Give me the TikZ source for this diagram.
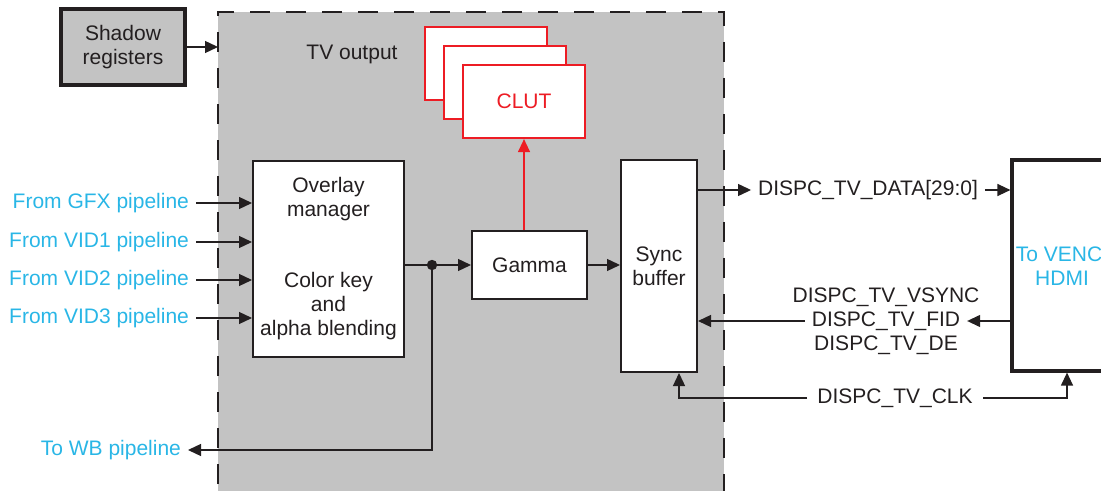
\documentclass[tikz,border=0pt]{standalone}
\usepackage{fontspec}
\setmainfont{Liberation Sans}
\usetikzlibrary{arrows.meta,positioning,calc}
\definecolor{tiblue}{RGB}{41,182,230}
\definecolor{tired}{RGB}{237,28,36}
\definecolor{tigray}{RGB}{195,195,195}
\definecolor{tiblk}{RGB}{35,31,32}
\tikzset{
  box/.style={draw=tiblk,line width=1pt,fill=#1,inner sep=0pt,align=center,text=tiblk},
  box/.default={white},
  tbox/.style={box=#1,line width=1.6pt},
  tbox/.default={white},
  cbox/.style={draw=tired,line width=1.1pt,fill=white,minimum width=61pt,minimum height=36.5pt,text=tired},
  arr/.style={draw=tiblk,line width=0.65pt,-{Triangle[length=6.5pt,width=6pt]}},
  lbl/.style={text=tiblk,align=center},
  pin/.style={text=tiblue,align=center},
}
\begin{document}
\begin{tikzpicture}[x=0.5pt,y=-0.5pt,every node/.style={font=\fontsize{10.5}{12}\selectfont}]
 \useasboundingbox (0,0) rectangle (1101,491);
 \clip (0,0) rectangle (1101,491);
 \fill[tigray] (218,12) rectangle (724,520);
 \draw[tiblk,line width=1.4pt,dash pattern=on 10pt off 8pt] (218,520) -- (218,12) -- (724,12) -- (724,520);
 \node[tbox=tigray,minimum width=62pt,minimum height=38pt] (shadow) at (123,47){Shadow\\registers};
 \coordinate (tvin) at (218,47); \draw[arr] (shadow) -- (tvin);
 \node[lbl] (tvlbl) at (352,54){TV output};
 \node[cbox] (clutc) at (486,63.5){}; \node[cbox] (clutb) at (505,82.5){}; \node[cbox] (clut) at (524,101.5){CLUT};
 \node[box,minimum width=75.5pt,minimum height=98pt] (ovl) at (328.5,259){};
 \node[lbl] (ovltop) at (328.5,199){Overlay\\manager}; \node[lbl] (ovlbot) at (328.5,306){Color key\\and\\alpha blending};
 \node[box,minimum width=57.5pt,minimum height=34pt] (gamma) at (529.5,265){Gamma};
 \node[box,minimum width=38pt,minimum height=106pt] (sync) at (659,266){Sync\\buffer};
 \node[tbox,minimum width=50pt,minimum height=105.5pt,text=tiblue] (venc) at (1062,265.5){To VENC/\\HDMI};
 \foreach \n/\t/\y in {gfx/GFX/203,vid1/VID1/242,vid2/VID2/280,vid3/VID3/318}{
  \node[pin,anchor=east] (\n) at (196,\y){From \t\ pipeline}; \draw[arr] (\n.east) -- (ovl.west|-\n.east);}
 \coordinate (tap) at (432,265);
 \draw[tiblk,line width=0.65pt] (ovl.east|-gamma) -- (tap); \draw[arr] (tap) -- (gamma.west); \fill[tiblk] (tap) circle (2.6pt);
 \node[pin,anchor=east] (wb) at (188,450){To WB pipeline}; \draw[arr] (tap) |- (wb.east);
 \draw[arr,draw=tired] (gamma.north-|clut.south) -- (clut.south);
 \draw[arr] (gamma.east) -- (sync.west|-gamma);
 \node[lbl] (data) at (868,190){DISPC\_TV\_DATA[29:0]};
 \draw[arr] (sync.east|-data) -- (data.west); \draw[arr] (data.east) -- (venc.west|-data);
 \node[lbl] (vsync) at (886,297){DISPC\_TV\_VSYNC}; \node[lbl] (fid) at (886,321){DISPC\_TV\_FID}; \node[lbl] (de) at (886,345){DISPC\_TV\_DE};
 \draw[arr] (venc.west|-fid) -- (fid.east); \draw[arr] (fid.west) -- (sync.east|-fid);
 \node[lbl,inner xsep=5pt] (clk) at (895,398){DISPC\_TV\_CLK};
 \draw[arr] (clk.east) -| ([xshift=2.5pt]venc.south); \draw[arr] (clk.west) -| ([xshift=10pt]sync.south);
\end{tikzpicture}
\end{document}
